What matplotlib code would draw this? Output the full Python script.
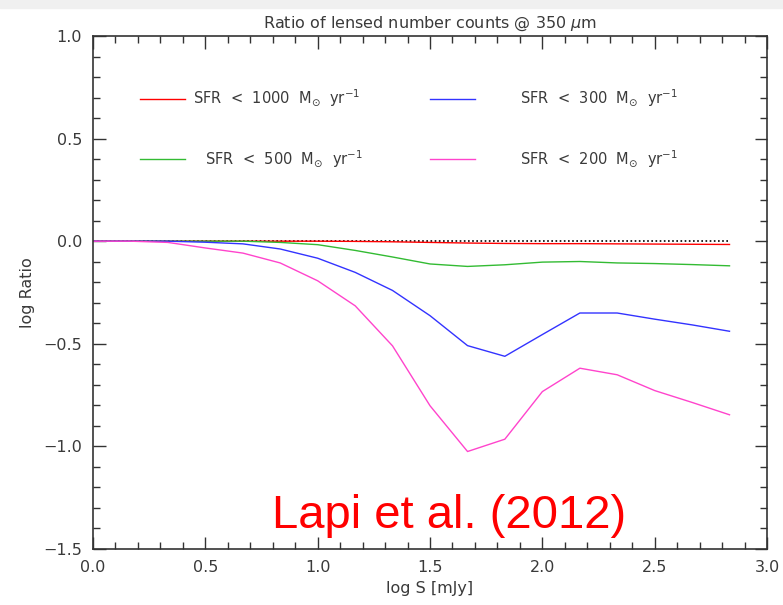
import numpy as np
import matplotlib
matplotlib.use("Agg")
import matplotlib.pyplot as plt
from matplotlib.ticker import MultipleLocator
from matplotlib.patches import Rectangle

# log S [mJy] sampling of the model curves
logS = [0.0, 0.167, 0.333, 0.5, 0.667, 0.833, 1.0, 1.167, 1.333,
        1.5, 1.667, 1.833, 2.0, 2.167, 2.333, 2.5, 2.667, 2.833]

ratio_1000 = [0.0, 0.0, 0.0, 0.0, 0.0, 0.0, 0.0, -0.001, -0.003,
              -0.006, -0.009, -0.011, -0.012, -0.012, -0.013, -0.014, -0.015, -0.016]
ratio_500 = [0.0, 0.0, 0.0, 0.0, 0.0, -0.006, -0.017, -0.045, -0.077,
             -0.111, -0.123, -0.115, -0.102, -0.099, -0.106, -0.109, -0.114, -0.12]
ratio_300 = [0.0, 0.0, 0.0, -0.005, -0.013, -0.038, -0.083, -0.152, -0.24,
             -0.363, -0.509, -0.561, -0.455, -0.35, -0.35, -0.38, -0.408, -0.439]
ratio_200 = [0.0, 0.0, -0.006, -0.033, -0.058, -0.106, -0.193, -0.315, -0.51,
             -0.802, -1.025, -0.965, -0.733, -0.619, -0.651, -0.728, -0.786, -0.846]

labels = [r"SFR  <  1000  M$_{\odot}$  yr$^{-1}$",
          r"SFR  <  500  M$_{\odot}$  yr$^{-1}$",
          r"SFR  <  300  M$_{\odot}$  yr$^{-1}$",
          r"SFR  <  200  M$_{\odot}$  yr$^{-1}$"]
colors = ["#ff0000", "#33bb33", "#3333ff", "#ff44cc"]

txt = "#3a3a3a"
fig = plt.figure(figsize=(7.83, 6.05), dpi=100)
fig.patches.append(Rectangle((0, 0.987), 1, 0.013, transform=fig.transFigure,
                             color="#f0f0f0", zorder=0))
ax = fig.add_axes([0.1188, 0.0926, 0.8608, 0.8479])

ax.plot([0, 2.833], [0, 0], color="black", lw=1.2, ls=(0, (1, 1.5)))
for y, c in zip([ratio_1000, ratio_500, ratio_300, ratio_200], colors):
    ax.plot(logS, y, color=c, lw=1.0)

# legend drawn by hand, two columns
leg_pos = [(0.21, 0.695), (0.21, 0.40), (1.50, 0.695), (1.50, 0.40)]
txt_x = [0.445, 0.50, 1.90, 1.90]
for (lx, ly), tx, lab, c in zip(leg_pos, txt_x, labels, colors):
    ax.plot([lx, lx + 0.2], [ly, ly], color=c, lw=1.0)
    ax.text(tx, ly, lab, color=txt, fontsize=10.5, va="center", ha="left")

ax.text(1.584, -1.40, "Lapi et al. (2012)", color="#ff0000", fontsize=34,
        family="Liberation Sans", ha="center", va="baseline")

ax.set_xlim(0, 3.0)
ax.set_ylim(-1.5, 1.0)
ax.xaxis.set_major_locator(MultipleLocator(0.5))
ax.xaxis.set_minor_locator(MultipleLocator(0.1))
ax.yaxis.set_major_locator(MultipleLocator(0.5))
ax.yaxis.set_minor_locator(MultipleLocator(0.1))
ax.tick_params(which="both", direction="in", top=True, right=True,
               colors="#333333", labelcolor=txt, labelsize=11.5, width=1.0)
ax.tick_params(which="major", length=9, pad=8)
ax.tick_params(which="minor", length=5)
for s in ax.spines.values():
    s.set_color("#333333")
    s.set_linewidth(1.2)

ax.set_title(r"Ratio of lensed number counts @ 350 $\mu$m", color=txt,
             fontsize=11.5, pad=6)
ax.set_xlabel("log S [mJy]", color=txt, fontsize=11.5)
ax.set_ylabel("log Ratio", color=txt, fontsize=11.5, labelpad=6)

fig.savefig("out.png", dpi=100)
